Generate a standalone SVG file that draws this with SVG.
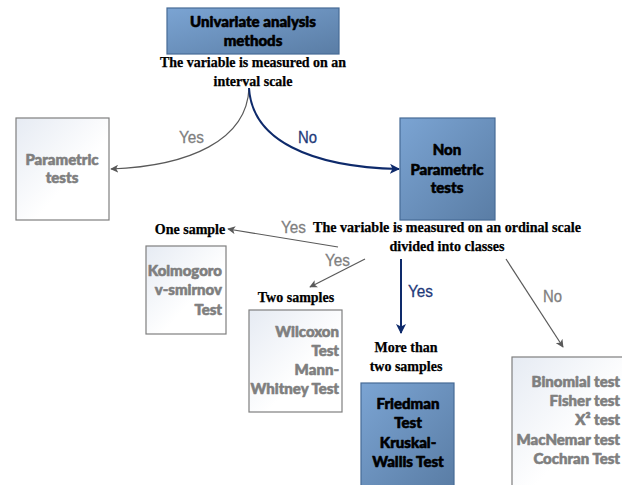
<svg xmlns="http://www.w3.org/2000/svg" width="622" height="485" viewBox="0 0 622 485">
<defs>
<linearGradient id="gLight" x1="0" y1="0" x2="1" y2="1">
<stop offset="0" stop-color="#e6ebf3"/>
<stop offset="0.6" stop-color="#ffffff"/>
<stop offset="1" stop-color="#ffffff"/>
</linearGradient>
<linearGradient id="gDark" x1="0" y1="0" x2="1" y2="1">
<stop offset="0" stop-color="#7ba4d3"/>
<stop offset="1" stop-color="#5a7da5"/>
</linearGradient>
<marker id="aGray" viewBox="0 0 10 10" refX="9" refY="5" markerWidth="8" markerHeight="8" markerUnits="userSpaceOnUse" orient="auto">
<path d="M0,0 L10,5 L0,10 L2.5,5 z" fill="#595959"/>
</marker>
<marker id="aNavy" viewBox="0 0 10 10" refX="9" refY="5" markerWidth="10" markerHeight="10" markerUnits="userSpaceOnUse" orient="auto">
<path d="M0,0 L10,5 L0,10 L2.5,5 z" fill="#0e2a6b"/>
</marker>
</defs>
<style>
.light{fill:url(#gLight);stroke:#7f7f7f;stroke-width:1.2}
.dark{fill:url(#gDark);stroke:#466b96;stroke-width:1.2}
.lbl{font-family:Lato,"Open Sans",sans-serif;font-weight:900;font-size:15px;stroke-width:0.6;stroke-linejoin:round}
.gt{fill:#7f7f7f;stroke:#7f7f7f}
.bt{fill:#000000;stroke:#000000}
.ser{font-family:"Liberation Serif","Times New Roman",serif;font-weight:bold;font-size:14px;fill:#000;stroke:#000;stroke-width:0.25}
.yes{font-family:"Liberation Sans",Arial,sans-serif;font-size:16px;stroke-width:0.3}
.gy{fill:#808080;stroke:#808080}
.nv{fill:#1f3a7a;stroke:#1f3a7a}
.cg{fill:none;stroke:#595959;stroke-width:1.2}
.cn{fill:none;stroke:#0e2a6b;stroke-width:2}
</style>

<g id="connectors">
<path class="cg" d="M249,88 C247,140 190,166 111,169" marker-end="url(#aGray)"/>
<path class="cn" d="M249,88 C252,140 310,167 399,169" marker-end="url(#aNavy)"/>
<line class="cg" x1="338" y1="247" x2="228" y2="229" marker-end="url(#aGray)"/>
<line class="cg" x1="365" y1="259" x2="310" y2="287" marker-end="url(#aGray)"/>
<line class="cn" x1="401" y1="259" x2="401" y2="333" marker-end="url(#aNavy)"/>
<line class="cg" x1="506" y1="259" x2="563" y2="347" marker-end="url(#aGray)"/>
<text class="yes gy" x="179" y="143" textLength="25" lengthAdjust="spacingAndGlyphs">Yes</text>
<text class="yes nv" x="298" y="143" textLength="19" lengthAdjust="spacingAndGlyphs">No</text>
<text class="yes gy" x="281" y="233" textLength="25" lengthAdjust="spacingAndGlyphs">Yes</text>
<text class="yes gy" x="325" y="266" textLength="25" lengthAdjust="spacingAndGlyphs">Yes</text>
<text class="yes nv" x="408" y="297" textLength="25" lengthAdjust="spacingAndGlyphs">Yes</text>
<text class="yes gy" x="543" y="302" textLength="19" lengthAdjust="spacingAndGlyphs">No</text>
</g>

<g id="root">
<rect class="dark" x="167" y="8" width="172" height="46"/>
<text class="lbl bt" text-anchor="middle" x="253" y="27">Univariate analysis</text>
<text class="lbl bt" text-anchor="middle" x="253" y="46">methods</text>
</g>

<g id="q-interval">
<text class="ser" text-anchor="middle" x="253" y="67" textLength="186" lengthAdjust="spacingAndGlyphs">The variable is measured on an</text>
<text class="ser" text-anchor="middle" x="253" y="86">interval scale</text>
</g>

<g id="parametric">
<rect class="light" x="16" y="118" width="93" height="102"/>
<text class="lbl gt" text-anchor="middle" x="62" y="165">Parametric</text>
<text class="lbl gt" text-anchor="middle" x="62" y="183">tests</text>
</g>

<g id="nonparametric">
<rect class="dark" x="400" y="118" width="95" height="102"/>
<text class="lbl bt" text-anchor="middle" x="447" y="155">Non</text>
<text class="lbl bt" text-anchor="middle" x="447" y="175">Parametric</text>
<text class="lbl bt" text-anchor="middle" x="447" y="193">tests</text>
</g>

<g id="q-ordinal">
<text class="ser" text-anchor="middle" x="447" y="232" textLength="268" lengthAdjust="spacingAndGlyphs">The variable is measured on an ordinal scale</text>
<text class="ser" text-anchor="middle" x="447" y="251" textLength="115" lengthAdjust="spacingAndGlyphs">divided into classes</text>
</g>

<g id="one-sample">
<text class="ser" text-anchor="middle" x="190" y="234">One sample</text>
</g>

<g id="kolmogorov">
<rect class="light" x="146" y="246" width="80" height="88"/>
<text class="lbl gt" text-anchor="end" x="222" y="276">Kolmogoro</text>
<text class="lbl gt" text-anchor="end" x="222" y="295">v-smirnov</text>
<text class="lbl gt" text-anchor="end" x="222" y="315">Test</text>
</g>

<g id="two-samples">
<text class="ser" text-anchor="middle" x="296" y="302">Two samples</text>
</g>

<g id="wilcoxon">
<rect class="light" x="249" y="310" width="93" height="102"/>
<text class="lbl gt" text-anchor="end" x="339" y="337">Wilcoxon</text>
<text class="lbl gt" text-anchor="end" x="339" y="356">Test</text>
<text class="lbl gt" text-anchor="end" x="339" y="375">Mann-</text>
<text class="lbl gt" text-anchor="end" x="339" y="394">Whitney Test</text>
</g>

<g id="more-than-two">
<text class="ser" text-anchor="middle" x="406" y="352">More than</text>
<text class="ser" text-anchor="middle" x="406" y="371">two samples</text>
</g>

<g id="friedman">
<rect class="dark" x="361" y="383" width="93" height="104"/>
<text class="lbl bt" text-anchor="middle" x="408" y="409">Friedman</text>
<text class="lbl bt" text-anchor="middle" x="408" y="428">Test</text>
<text class="lbl bt" text-anchor="middle" x="408" y="448">Kruskal-</text>
<text class="lbl bt" text-anchor="middle" x="408" y="467">Wallis Test</text>
</g>

<g id="nominal">
<rect class="light" x="512" y="357" width="112" height="130"/>
<text class="lbl gt" text-anchor="end" x="620" y="387">Binomial test</text>
<text class="lbl gt" text-anchor="end" x="620" y="406">Fisher test</text>
<text class="lbl gt" text-anchor="end" x="620" y="425">X² test</text>
<text class="lbl gt" text-anchor="end" x="620" y="445">MacNemar test</text>
<text class="lbl gt" text-anchor="end" x="620" y="464">Cochran Test</text>
</g>
</svg>
